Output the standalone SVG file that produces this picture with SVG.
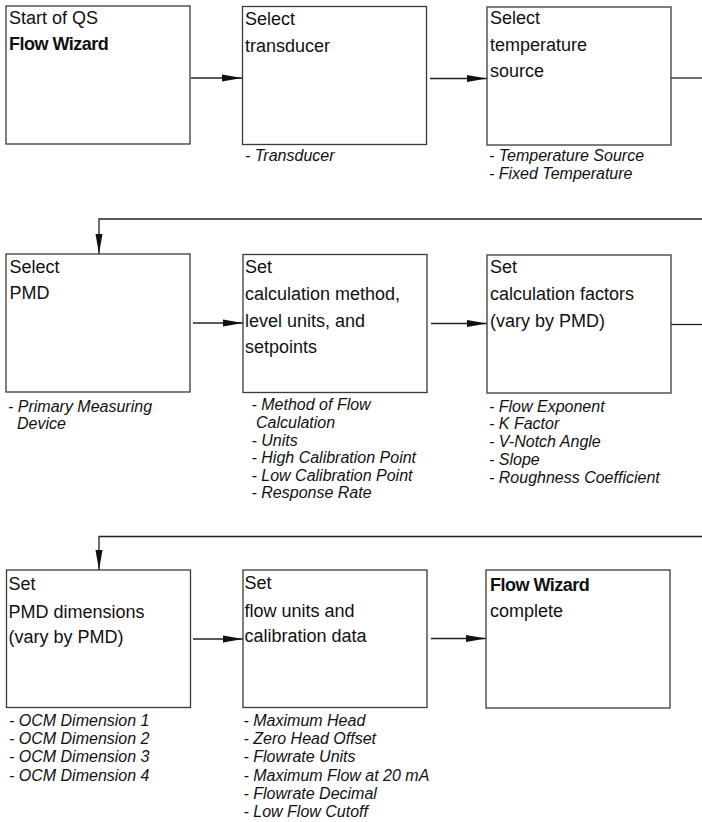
<svg xmlns="http://www.w3.org/2000/svg" width="702" height="822" viewBox="0 0 702 822">
<style>
.box{fill:#fff;stroke:#3a3a3a;stroke-width:1.3}
.t{font-family:"Liberation Sans",Arial,sans-serif;font-size:18px;fill:#111}
.b{font-weight:bold;letter-spacing:-0.5px}
.i{font-family:"Liberation Sans",Arial,sans-serif;font-size:16px;font-style:italic;fill:#111}
.c{fill:none;stroke:#222;stroke-width:1.3}
</style>
<defs>
<marker id="ah" markerUnits="userSpaceOnUse" markerWidth="20" markerHeight="8" refX="20" refY="4" orient="auto">
<path d="M0,0.5 L20,4 L0,7.5 z" fill="#111"/>
</marker>
</defs>
<rect width="702" height="822" fill="#fff"/>
<g id="connectors">
<path class="c" d="M191,78 L242,78" marker-end="url(#ah)"/>
<path class="c" d="M430,78.5 L487,78.5" marker-end="url(#ah)"/>
<path class="c" d="M671,78 L702,78"/>
<path class="c" d="M702,219 L99,219 L99,254" marker-end="url(#ah)"/>
<path class="c" d="M193,323 L243,323" marker-end="url(#ah)"/>
<path class="c" d="M431,323.5 L487,323.5" marker-end="url(#ah)"/>
<path class="c" d="M671,324.5 L702,324.5"/>
<path class="c" d="M702,536.5 L99,536.5 L99,570" marker-end="url(#ah)"/>
<path class="c" d="M193,639 L243,639" marker-end="url(#ah)"/>
<path class="c" d="M431,638.5 L486,638.5" marker-end="url(#ah)"/>
</g>
<g id="n1">
<rect class="box" x="6" y="6" width="184" height="138"/>
<text class="t" x="9" y="24">Start of QS</text>
<text class="t b" x="9" y="50">Flow Wizard</text>
</g>
<g id="n2">
<rect class="box" x="242.5" y="6.5" width="184" height="138"/>
<text class="t" x="245"><tspan x="245" y="25">Select</tspan><tspan x="245" y="52">transducer</tspan></text>
<text class="i" x="245" y="161">- Transducer</text>
</g>
<g id="n3">
<rect class="box" x="487" y="7" width="184" height="138"/>
<text class="t"><tspan x="490" y="24">Select</tspan><tspan x="490" y="50.5">temperature</tspan><tspan x="490" y="77">source</tspan></text>
<text class="i"><tspan x="489" y="160.7">- Temperature Source</tspan><tspan x="489" y="179">- Fixed Temperature</tspan></text>
</g>
<g id="n4">
<rect class="box" x="6" y="254" width="184" height="138"/>
<text class="t"><tspan x="9.5" y="272.7">Select</tspan><tspan x="9.5" y="299">PMD</tspan></text>
<text class="i"><tspan x="8" y="411.7">- Primary Measuring</tspan><tspan x="17" y="428.7">Device</tspan></text>
</g>
<g id="n5">
<rect class="box" x="243" y="254.5" width="184" height="138"/>
<text class="t"><tspan x="245" y="273.3">Set</tspan><tspan x="245" y="300.3">calculation method,</tspan><tspan x="245" y="326.7">level units, and</tspan><tspan x="245" y="352.5">setpoints</tspan></text>
<text class="i"><tspan x="251.5" y="410">- Method of Flow</tspan><tspan x="256" y="428">Calculation</tspan><tspan x="251.5" y="445.7">- Units</tspan><tspan x="251.5" y="463.3">- High Calibration Point</tspan><tspan x="251.5" y="480.7">- Low Calibration Point</tspan><tspan x="251.5" y="498.3">- Response Rate</tspan></text>
</g>
<g id="n6">
<rect class="box" x="487" y="255" width="184" height="138"/>
<text class="t"><tspan x="490" y="273.3">Set</tspan><tspan x="490" y="300">calculation factors</tspan><tspan x="490" y="327">(vary by PMD)</tspan></text>
<text class="i"><tspan x="489" y="411.7">- Flow Exponent</tspan><tspan x="489" y="429.4">- K Factor</tspan><tspan x="489" y="447.2">- V-Notch Angle</tspan><tspan x="489" y="465">- Slope</tspan><tspan x="489" y="482.7">- Roughness Coefficient</tspan></text>
</g>
<g id="n7">
<rect class="box" x="6.5" y="570" width="184" height="137.5"/>
<text class="t"><tspan x="8.5" y="590">Set</tspan><tspan x="8.5" y="617.7">PMD dimensions</tspan><tspan x="8.5" y="643.3">(vary by PMD)</tspan></text>
<text class="i"><tspan x="9" y="725.7">- OCM Dimension 1</tspan><tspan x="9" y="744">- OCM Dimension 2</tspan><tspan x="9" y="762.3">- OCM Dimension 3</tspan><tspan x="9" y="780.7">- OCM Dimension 4</tspan></text>
</g>
<g id="n8">
<rect class="box" x="243" y="570" width="184" height="137.5"/>
<text class="t"><tspan x="244.5" y="589.3">Set</tspan><tspan x="244.5" y="616.7">flow units and</tspan><tspan x="244.5" y="642.3">calibration data</tspan></text>
<text class="i"><tspan x="243.5" y="725.7">- Maximum Head</tspan><tspan x="243.5" y="744">- Zero Head Offset</tspan><tspan x="243.5" y="762.3">- Flowrate Units</tspan><tspan x="243.5" y="780.7">- Maximum Flow at 20 mA</tspan><tspan x="243.5" y="799">- Flowrate Decimal</tspan><tspan x="243.5" y="817.3">- Low Flow Cutoff</tspan></text>
</g>
<g id="n9">
<rect class="box" x="486" y="570" width="184" height="138"/>
<text class="t b" x="490" y="590.7">Flow Wizard</text>
<text class="t" x="490" y="617.3">complete</text>
</g>
</svg>
